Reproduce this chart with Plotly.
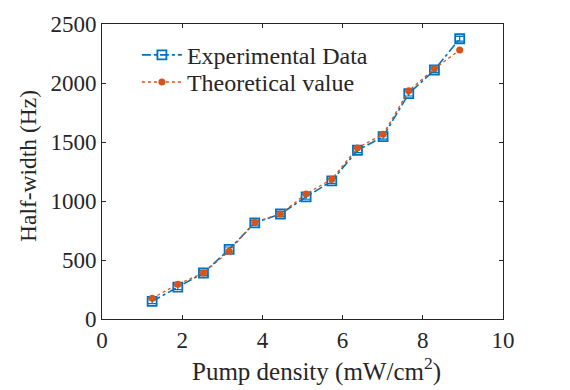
import plotly.graph_objects as go

pump_density = [1.25, 1.89, 2.53, 3.17, 3.81, 4.45, 5.09, 5.73, 6.37, 7.01, 7.65, 8.29, 8.92]
experimental = [150, 270, 390, 590, 815, 890, 1035, 1170, 1430, 1545, 1910, 2110, 2375]
exp_error = [20, 20, 20, 20, 20, 20, 20, 20, 20, 20, 20, 20, 20]
theoretical = [175, 295, 390, 575, 820, 890, 1060, 1185, 1450, 1565, 1935, 2120, 2280]

BLUE = "#0072BD"
ORANGE = "#D95319"
FONT = "Liberation Serif"
TXT = "#262626"

fig = go.Figure()
fig.add_trace(go.Scatter(
    x=pump_density, y=experimental, name="Experimental Data",
    mode="lines+markers", legend="legend", showlegend=True,
    line=dict(color=BLUE, width=1.6, dash="dashdot"),
    marker=dict(symbol="square-open", size=9, color=BLUE, line=dict(width=1.8, color=BLUE)),
    error_y=dict(type="data", array=exp_error, color=BLUE, thickness=1.2, width=4),
))
fig.add_trace(go.Scatter(
    x=pump_density, y=theoretical, name="Theoretical value",
    mode="lines+markers", legend="legend2", showlegend=True,
    line=dict(color=ORANGE, width=1.3, dash="dot"),
    marker=dict(symbol="circle", size=7, color=ORANGE),
))

axis_common = dict(
    showgrid=False, zeroline=False, showline=True, linecolor=TXT, linewidth=1,
    mirror="ticks", ticks="inside", ticklen=4, tickcolor=TXT,
    tickfont=dict(family=FONT, size=23, color=TXT),
)
fig.update_xaxes(range=[0, 10], dtick=2, **axis_common)
fig.update_yaxes(range=[0, 2500], dtick=500, **axis_common)

fig.add_annotation(text="Pump density (mW/cm<sup>2</sup>)", xref="paper", yref="paper",
                   x=0.534, y=-0.172, xanchor="center", yanchor="middle", showarrow=False,
                   font=dict(family=FONT, size=25, color=TXT))
fig.add_annotation(text="Half-width (Hz)", xref="paper", yref="paper", textangle=-90,
                   x=-0.185, y=0.518, xanchor="center", yanchor="middle", showarrow=False,
                   font=dict(family=FONT, size=23.5, color=TXT))

leg_common = dict(xanchor="left", yanchor="middle",
                  bgcolor="rgba(255,255,255,0)", borderwidth=0,
                  font=dict(family=FONT, size=24, color=TXT),
                  tracegroupgap=0, itemwidth=40, visible=True)
fig.update_layout(
    width=570, height=390,
    showlegend=True,
    margin=dict(l=102, r=67, t=16, b=71),
    paper_bgcolor="white", plot_bgcolor="white",
    font=dict(family=FONT, color=TXT),
    legend=dict(x=0.087, y=0.894, **leg_common),
    legend2=dict(x=0.087, y=0.802, **leg_common),
)

fig.write_html("out.html")
